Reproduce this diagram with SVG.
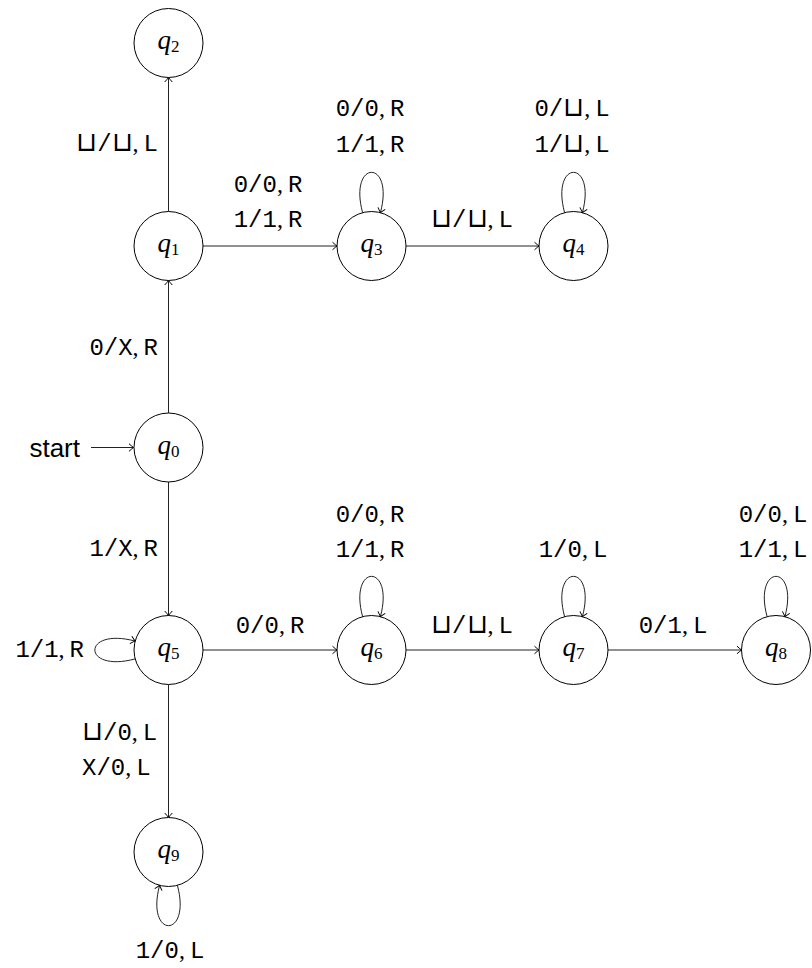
<svg xmlns="http://www.w3.org/2000/svg" width="812" height="968" viewBox="0 0 812 968">
<style>
.st{fill:#fff;stroke:#000;stroke-width:1}
.nl{font-family:"Liberation Serif","DejaVu Serif",serif;font-size:27px;text-anchor:middle;fill:#000}
.nl .v{font-style:italic}
.nl .s{font-size:17px}
.e{fill:none;stroke:#222;stroke-width:1;marker-end:url(#ah)}
.lb{font-family:"Liberation Mono","DejaVu Sans Mono",monospace;font-size:24px;fill:#000}
.cm{font-family:"Liberation Serif",serif}
.b{font-family:"DejaVu Sans",sans-serif;font-size:27px;font-weight:200}
.c{text-anchor:middle}
.r{text-anchor:end}
.start{font-family:"Liberation Sans",Arial,sans-serif;font-size:26px;text-anchor:end;fill:#000}
</style>
<defs>
<marker id="ah" viewBox="-6 -5 8 10" markerWidth="8" markerHeight="10" refX="0" refY="0" orient="auto" markerUnits="userSpaceOnUse">
<path d="M-4.5,-3.8 Q-1.2,-0.8 0,0 Q-1.2,0.8 -4.5,3.8" fill="none" stroke="#000" stroke-width="1"/>
</marker>
</defs>
<rect width="812" height="968" fill="#fff"/>
<g id="connectors">
<line class="e" x1="91" y1="447.5" x2="133.5" y2="447.5"/>
<line class="e" x1="168.5" y1="211.5" x2="168.5" y2="77.5"/>
<line class="e" x1="168.5" y1="413" x2="168.5" y2="280.5"/>
<line class="e" x1="168.5" y1="482" x2="168.5" y2="615.5"/>
<line class="e" x1="168.5" y1="684.5" x2="168.5" y2="817.5"/>
<line class="e" x1="203" y1="246" x2="337" y2="246"/>
<line class="e" x1="406" y1="246" x2="539" y2="246"/>
<line class="e" x1="203" y1="650" x2="337" y2="650"/>
<line class="e" x1="406" y1="650" x2="539" y2="650"/>
<line class="e" x1="608" y1="650" x2="741.5" y2="650"/>
<path class="e" d="M362.6,212.7 C348.2,158.9 394.8,158.9 380.4,212.7"/>
<path class="e" d="M564.6,212.7 C550.2,158.9 596.8,158.9 582.4,212.7"/>
<path class="e" d="M362.6,616.7 C348.2,562.9 394.8,562.9 380.4,616.7"/>
<path class="e" d="M564.6,616.7 C550.2,562.9 596.8,562.9 582.4,616.7"/>
<path class="e" d="M767.1,616.7 C752.7,562.9 799.3,562.9 784.9,616.7"/>
<path class="e" d="M135.2,658.9 C81.4,673.3 81.4,626.7 135.2,641.1"/>
<path class="e" d="M177.4,885.3 C191.8,939.1 145.2,939.1 159.6,885.3"/>
</g>
<g id="labels">
<text class="start" x="80" y="457">start</text>
<text class="lb r" x="158" y="151"><tspan class="b">⊔</tspan>/<tspan class="b">⊔</tspan><tspan class="cm">,</tspan><tspan dx="5">L</tspan></text>
<text class="lb r" x="158" y="355">0/X<tspan class="cm">,</tspan><tspan dx="5">R</tspan></text>
<text class="lb r" x="158" y="556">1/X<tspan class="cm">,</tspan><tspan dx="5">R</tspan></text>
<text class="lb c" x="268" y="192">0/0<tspan class="cm">,</tspan><tspan dx="5">R</tspan></text>
<text class="lb c" x="268" y="227">1/1<tspan class="cm">,</tspan><tspan dx="5">R</tspan></text>
<text class="lb c" x="370" y="116">0/0<tspan class="cm">,</tspan><tspan dx="5">R</tspan></text>
<text class="lb c" x="370" y="152">1/1<tspan class="cm">,</tspan><tspan dx="5">R</tspan></text>
<text class="lb c" x="472" y="227"><tspan class="b">⊔</tspan>/<tspan class="b">⊔</tspan><tspan class="cm">,</tspan><tspan dx="5">L</tspan></text>
<text class="lb c" x="572" y="116">0/<tspan class="b">⊔</tspan><tspan class="cm">,</tspan><tspan dx="5">L</tspan></text>
<text class="lb c" x="572" y="152">1/<tspan class="b">⊔</tspan><tspan class="cm">,</tspan><tspan dx="5">L</tspan></text>
<text class="lb r" x="84" y="657">1/1<tspan class="cm">,</tspan><tspan dx="5">R</tspan></text>
<text class="lb c" x="270" y="633">0/0<tspan class="cm">,</tspan><tspan dx="5">R</tspan></text>
<text class="lb c" x="370" y="522">0/0<tspan class="cm">,</tspan><tspan dx="5">R</tspan></text>
<text class="lb c" x="370" y="557">1/1<tspan class="cm">,</tspan><tspan dx="5">R</tspan></text>
<text class="lb c" x="472" y="633"><tspan class="b">⊔</tspan>/<tspan class="b">⊔</tspan><tspan class="cm">,</tspan><tspan dx="5">L</tspan></text>
<text class="lb c" x="573" y="557">1/0<tspan class="cm">,</tspan><tspan dx="5">L</tspan></text>
<text class="lb c" x="673" y="633">0/1<tspan class="cm">,</tspan><tspan dx="5">L</tspan></text>
<text class="lb c" x="773" y="522">0/0<tspan class="cm">,</tspan><tspan dx="5">L</tspan></text>
<text class="lb c" x="773" y="557">1/1<tspan class="cm">,</tspan><tspan dx="5">L</tspan></text>
<text class="lb" x="82" y="740"><tspan class="b">⊔</tspan>/0<tspan class="cm">,</tspan><tspan dx="5">L</tspan></text>
<text class="lb" x="82" y="775">X/0<tspan class="cm">,</tspan><tspan dx="5">L</tspan></text>
<text class="lb c" x="170" y="958">1/0<tspan class="cm">,</tspan><tspan dx="5">L</tspan></text>
</g>
<g id="q2"><circle class="st" cx="168.5" cy="43" r="34.5"/><text class="nl" x="168.5" y="49"><tspan class="v">q</tspan><tspan class="s" dy="3">2</tspan></text></g>
<g id="q1"><circle class="st" cx="168.5" cy="246" r="34.5"/><text class="nl" x="168.5" y="252"><tspan class="v">q</tspan><tspan class="s" dy="3">1</tspan></text></g>
<g id="q3"><circle class="st" cx="371.5" cy="246" r="34.5"/><text class="nl" x="371.5" y="252"><tspan class="v">q</tspan><tspan class="s" dy="3">3</tspan></text></g>
<g id="q4"><circle class="st" cx="573.5" cy="246" r="34.5"/><text class="nl" x="573.5" y="252"><tspan class="v">q</tspan><tspan class="s" dy="3">4</tspan></text></g>
<g id="q0"><circle class="st" cx="168.5" cy="447.5" r="34.5"/><text class="nl" x="168.5" y="453.5"><tspan class="v">q</tspan><tspan class="s" dy="3">0</tspan></text></g>
<g id="q5"><circle class="st" cx="168.5" cy="650" r="34.5"/><text class="nl" x="168.5" y="656"><tspan class="v">q</tspan><tspan class="s" dy="3">5</tspan></text></g>
<g id="q6"><circle class="st" cx="371.5" cy="650" r="34.5"/><text class="nl" x="371.5" y="656"><tspan class="v">q</tspan><tspan class="s" dy="3">6</tspan></text></g>
<g id="q7"><circle class="st" cx="573.5" cy="650" r="34.5"/><text class="nl" x="573.5" y="656"><tspan class="v">q</tspan><tspan class="s" dy="3">7</tspan></text></g>
<g id="q8"><circle class="st" cx="776" cy="650" r="34.5"/><text class="nl" x="776" y="656"><tspan class="v">q</tspan><tspan class="s" dy="3">8</tspan></text></g>
<g id="q9"><circle class="st" cx="168.5" cy="852" r="34.5"/><text class="nl" x="168.5" y="858"><tspan class="v">q</tspan><tspan class="s" dy="3">9</tspan></text></g>
</svg>
